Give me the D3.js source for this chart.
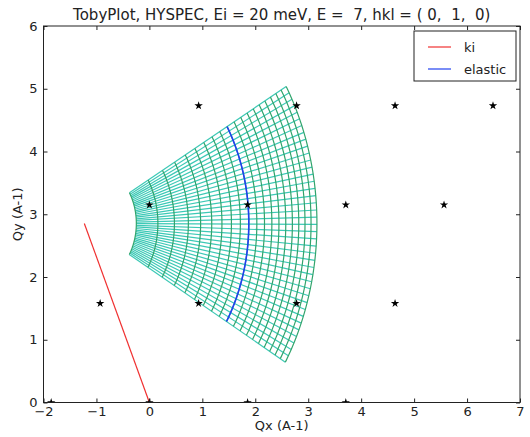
<!DOCTYPE html>
<html>
<head>
<meta charset="utf-8">
<script src="https://cdn.jsdelivr.net/npm/d3@7"></script>
<style>
  body { margin: 0; background: #fff; }
  text { font-family: "DejaVu Sans", sans-serif; fill: #222; }
</style>
</head>
<body>
<div id="chart"></div>
<script>
const width = 530
const height = 437
const margin = { top: 26, right: 10, bottom: 34.5, left: 43.5 }

const Ei = 20
const kiAngle = 113.3 // degrees, direction of ki in the Qx-Qy plane
const energyTransfer = [18, 16, 14, 12, 10, 8, 6, 4, 2, 0, -2, -4, -6, -8, -10, -12, -14, -16, -18, -20]
const twoTheta = [36.5, 38, 39.5, 41, 42.5, 44, 45.5, 47, 48.5, 50, 51.5, 53, 54.5, 56, 57.5, 59, 60.5, 62, 63.5, 65,
  66.5, 68, 69.5, 71, 72.5, 74, 75.5, 77, 78.5, 80, 81.5, 83, 84.5, 86, 87.5, 89, 90.5, 92, 93.5, 95, 96.5]

// reciprocal lattice points (stars)
const starX = [-1.855, 0, 1.855, 3.71, -0.93, 0.93, 2.78, 4.64, 0, 1.855, 3.71, 5.565, 0.93, 2.78, 4.64, 6.49]
const starY = [0, 0, 0, 0, 1.58, 1.58, 1.58, 1.58, 3.15, 3.15, 3.15, 3.15, 4.73, 4.73, 4.73, 4.73]

const xTicks = [-2, -1, 0, 1, 2, 3, 4, 5, 6, 7]
const yTicks = [0, 1, 2, 3, 4, 5, 6]
const legendLabels = ['ki', 'elastic']
const legendColors = ['#f03030', '#2040f0']

const title = 'TobyPlot, HYSPEC, Ei = 20 meV, E =  7, hkl = ( 0,  1,  0)'

const toK = (e) => Math.sqrt(e / 2.0721)
const rad = (deg) => deg * Math.PI / 180

const ki = toK(Ei)
const kiEnd = [ki * Math.cos(rad(kiAngle)), ki * Math.sin(rad(kiAngle))]

// point Q = ki - kf for given final k and scattering angle
function qPoint(kf, tth) {
  const a = rad(kiAngle + tth + 180)
  return [kiEnd[0] + kf * Math.cos(a), kiEnd[1] + kf * Math.sin(a)]
}

const x = d3.scaleLinear().domain([-2, 7]).range([margin.left, width - margin.right])
const y = d3.scaleLinear().domain([0, 6]).range([height - margin.bottom, margin.top])

const svg = d3.select('#chart')
  .append('svg')
  .attr('width', width)
  .attr('height', height)

svg.append('defs').append('clipPath')
  .attr('id', 'clip')
  .append('rect')
  .attr('x', x(-2))
  .attr('y', y(6))
  .attr('width', x(7) - x(-2))
  .attr('height', y(0) - y(6))

const line = d3.line()
  .x((d) => x(d[0]))
  .y((d) => y(d[1]))

const plot = svg.append('g').attr('clip-path', 'url(#clip)')

const kfList = energyTransfer.map((e) => toK(Ei - e))
const kfMin = d3.min(kfList)
const kfMax = d3.max(kfList)

// rays of constant scattering angle
plot.append('g')
  .selectAll('path')
  .data(twoTheta)
  .enter()
  .append('path')
  .attr('d', (t) => line([qPoint(kfMin, t), qPoint(kfMax, t)]))
  .attr('fill', 'none')
  .attr('stroke', '#3cc9b6')
  .attr('stroke-width', 1.2)

// arcs of constant energy transfer
plot.append('g')
  .selectAll('path')
  .data(kfList)
  .enter()
  .append('path')
  .attr('d', (kf) => line(twoTheta.map((t) => qPoint(kf, t))))
  .attr('fill', 'none')
  .attr('stroke', '#32a46c')
  .attr('stroke-width', 1.2)

// elastic line
plot.append('path')
  .attr('d', line(twoTheta.map((t) => qPoint(ki, t))))
  .attr('fill', 'none')
  .attr('stroke', legendColors[1])
  .attr('stroke-width', 1.6)

// ki vector
plot.append('path')
  .attr('d', line([[0, 0], kiEnd]))
  .attr('fill', 'none')
  .attr('stroke', legendColors[0])
  .attr('stroke-width', 1.2)

plot.append('g')
  .selectAll('path')
  .data(starX)
  .enter()
  .append('path')
  .attr('d', d3.symbol().type(d3.symbolStar).size(22))
  .attr('transform', (d, i) => `translate(${x(d)}, ${y(starY[i])})`)
  .attr('fill', '#000')

// axes, ticks pointing inward
const axisStyle = (g) => {
  g.select('.domain').remove()
  g.selectAll('.tick line').attr('stroke', '#222')
  g.selectAll('.tick text').attr('font-size', 13).attr('fill', '#222')
}
const minus = (d) => d3.format('d')(d).replace('-', '\u2212')

svg.append('g')
  .attr('transform', `translate(0, ${y(0)})`)
  .call(d3.axisBottom(x).tickValues(xTicks).tickSize(-4).tickPadding(4).tickFormat(minus))
  .call(axisStyle)

svg.append('g')
  .attr('transform', `translate(0, ${y(6)})`)
  .call(d3.axisTop(x).tickValues(xTicks).tickSize(-4).tickFormat(''))
  .call(axisStyle)

svg.append('g')
  .attr('transform', `translate(${x(-2)}, 0)`)
  .call(d3.axisLeft(y).tickValues(yTicks).tickSize(-4).tickPadding(6).tickFormat(minus))
  .call(axisStyle)

svg.append('g')
  .attr('transform', `translate(${x(7)}, 0)`)
  .call(d3.axisRight(y).tickValues(yTicks).tickSize(-4).tickFormat(''))
  .call(axisStyle)

svg.append('rect')
  .attr('x', x(-2))
  .attr('y', y(6))
  .attr('width', x(7) - x(-2))
  .attr('height', y(0) - y(6))
  .attr('fill', 'none')
  .attr('stroke', '#222')
  .attr('stroke-width', 1)

svg.append('text')
  .attr('x', (x(-2) + x(7)) / 2)
  .attr('y', 20)
  .attr('text-anchor', 'middle')
  .attr('font-size', 15)
  .style('white-space', 'pre')
  .text(title)

svg.append('text')
  .attr('x', (x(-2) + x(7)) / 2)
  .attr('y', 430)
  .attr('text-anchor', 'middle')
  .attr('font-size', 13)
  .text('Qx (A-1)')

svg.append('text')
  .attr('transform', `translate(22, ${(y(0) + y(6)) / 2}) rotate(-90)`)
  .attr('text-anchor', 'middle')
  .attr('font-size', 13)
  .text('Qy (A-1)')

// legend
const legend = svg.append('g').attr('transform', 'translate(414, 31)')
legend.append('rect')
  .attr('width', 102)
  .attr('height', 50)
  .attr('fill', '#fff')
  .attr('stroke', '#222')
  .attr('stroke-width', 1)

const entry = legend.selectAll('g.entry')
  .data(legendLabels)
  .enter()
  .append('g')
  .attr('class', 'entry')
  .attr('transform', (d, i) => `translate(0, ${16 + i * 22})`)

entry.append('line')
  .attr('x1', 14)
  .attr('x2', 37)
  .attr('stroke', (d, i) => legendColors[i])
  .attr('stroke-width', 1.2)

entry.append('text')
  .attr('x', 50)
  .attr('y', 5)
  .attr('font-size', 13)
  .text((d) => d)
</script>
</body>
</html>
